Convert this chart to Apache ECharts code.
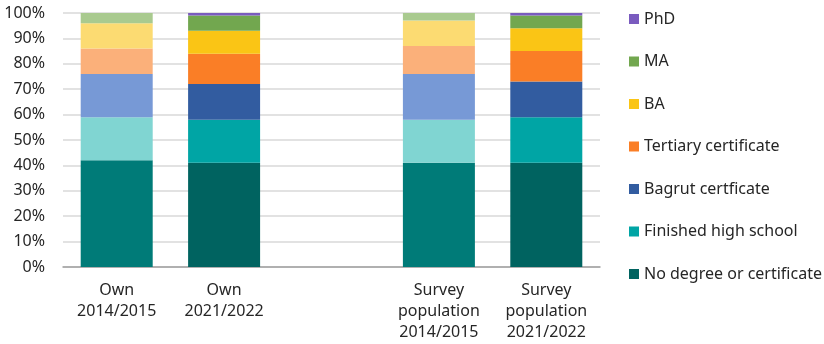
<!DOCTYPE html>
<html>
<head>
<meta charset="utf-8">
<script src="https://cdn.jsdelivr.net/npm/echarts@6/dist/echarts.min.js"></script>
<style>
  html, body { margin: 0; padding: 0; background: #fff; }
  #chart { width: 824px; height: 344px; }
</style>
</head>
<body>
<div id="chart"></div>
<script>
// Columns (empty slot separates the two groups)
const categories = ['Own\n2014/2015', 'Own\n2021/2022', '', 'Survey\npopulation\n2014/2015', 'Survey\npopulation\n2021/2022'];

// Education levels, bottom of the stack first
const levels = ['No degree or certificate', 'Finished high school', 'Bagrut certficate', 'Tertiary certificate', 'BA', 'MA', 'PhD'];

// Share (%) per level, one value per column
const noDegree   = [42, 41, null, 41, 41];
const highSchool = [17, 17, null, 17, 18];
const bagrut     = [17, 14, null, 18, 14];
const tertiary   = [10, 12, null, 11, 12];
const ba         = [10,  9, null, 10,  9];
const ma         = [ 4,  6, null,  3,  5];
const phd        = [ 0,  1, null,  0,  1];

const yTicks = [0, 10, 20, 30, 40, 50, 60, 70, 80, 90, 100];

const seriesValues = [noDegree, highSchool, bagrut, tertiary, ba, ma, phd];

// Full colour for the recent years, lighter tint for 2014/2015
const darkColors  = ['#006360', '#00A5A5', '#325CA0', '#FA7E26', '#FAC515', '#72A74F', '#7A5BBF'];
const lightColors = ['#007B78', '#80D5D2', '#7799D6', '#FBB07A', '#FCDB72', '#A9CA8F', '#B9A6E0'];
const lightColumns = [0, 3];

const FONT = 'Noto Sans';
const TEXT = '#262626';

const series = levels.map((name, i) => ({
  name,
  type: 'bar',
  stack: 'total',
  barWidth: 72,
  itemStyle: { color: darkColors[i] },
  data: seriesValues[i].map((v, c) => ({
    value: v,
    itemStyle: { color: lightColumns.includes(c) ? lightColors[i] : darkColors[i] }
  }))
}));

const chart = echarts.init(document.getElementById('chart'));
chart.setOption({
  animation: false,
  textStyle: { fontFamily: FONT },
  grid: { left: 63, right: 224, top: 13, bottom: 77 },
  legend: {
    orient: 'vertical',
    left: 629,
    top: 9,
    padding: 0,
    itemWidth: 10,
    itemHeight: 10,
    itemGap: 22.5,
    icon: 'rect',
    data: levels.slice().reverse(),
    textStyle: { fontSize: 16, color: TEXT, fontFamily: FONT, lineHeight: 20 }
  },
  xAxis: {
    type: 'category',
    data: categories,
    axisTick: { show: false },
    axisLine: { lineStyle: { color: '#A0A0A0', width: 1.5 } },
    axisLabel: { color: TEXT, fontSize: 16, lineHeight: 21, margin: 13, fontFamily: FONT }
  },
  yAxis: {
    type: 'value',
    min: yTicks[0],
    max: yTicks[yTicks.length - 1],
    interval: 10,
    axisLine: { show: false },
    axisTick: { show: false },
    splitLine: { lineStyle: { color: '#D9D9D9', width: 1.5 } },
    axisLabel: { color: TEXT, fontSize: 16, margin: 18, formatter: v => v + '%', fontFamily: FONT }
  },
  series
});
</script>
</body>
</html>
